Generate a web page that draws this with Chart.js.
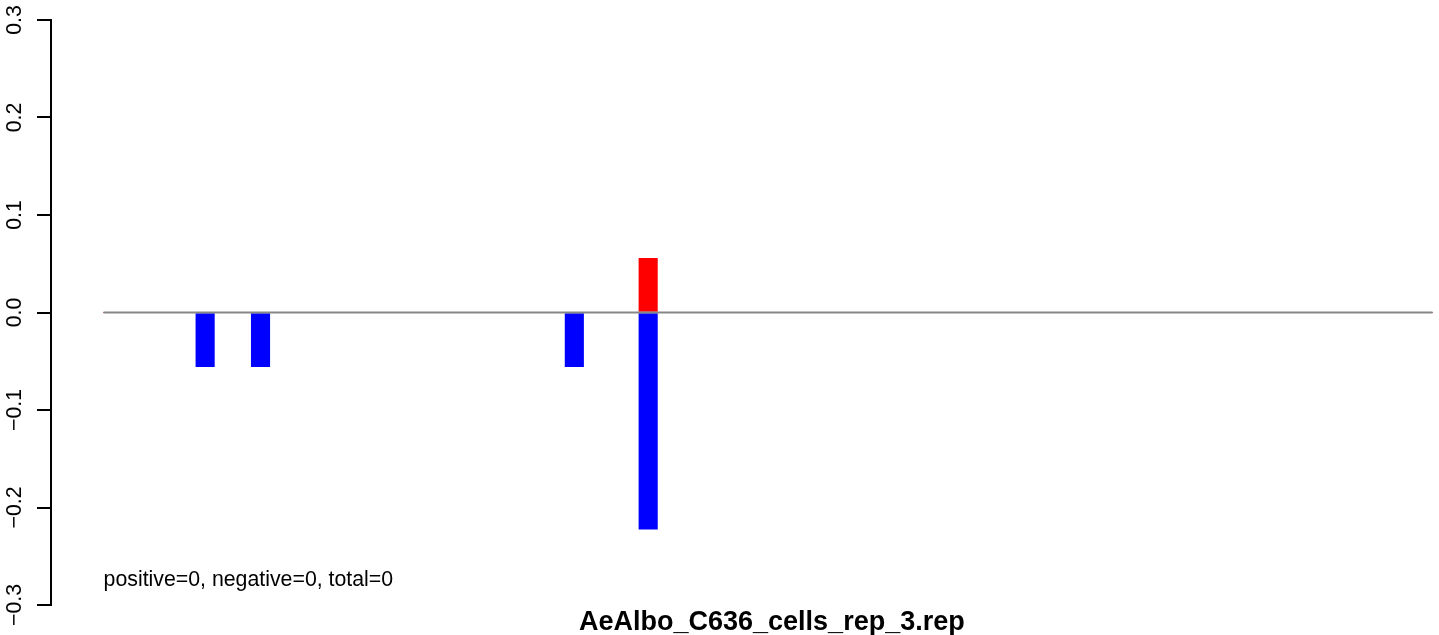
<!DOCTYPE html>
<html>
<head>
<meta charset="utf-8">
<script src="https://cdn.jsdelivr.net/npm/chart.js@4/dist/chart.umd.min.js"></script>
<style>
html, body { margin: 0; padding: 0; background: #ffffff; }
canvas { display: block; }
</style>
</head>
<body>
<canvas id="c" width="1439" height="635"></canvas>
<script>
// ---- data ----
const categories = [
   1,  2,  3,  4,  5,  6,  7,  8,  9, 10, 11, 12,
  13, 14, 15, 16, 17, 18, 19, 20, 21, 22, 23, 24,
  25, 26, 27, 28, 29, 30, 31, 32, 33, 34, 35, 36,
  37, 38, 39, 40, 41, 42, 43, 44, 45, 46, 47, 48,
  49, 50, 51, 52, 53, 54, 55, 56, 57, 58, 59, 60,
  61, 62, 63, 64, 65, 66, 67, 68, 69, 70, 71, 72
];
const positiveValues = [
  0, 0, 0, 0, 0, 0, 0, 0, 0, 0, 0, 0,
  0, 0, 0, 0, 0, 0, 0, 0, 0, 0, 0, 0,
  0, 0, 0, 0, 0, 0.0556, 0, 0, 0, 0, 0, 0,
  0, 0, 0, 0, 0, 0, 0, 0, 0, 0, 0, 0,
  0, 0, 0, 0, 0, 0, 0, 0, 0, 0, 0, 0,
  0, 0, 0, 0, 0, 0, 0, 0, 0, 0, 0, 0
];
const negativeValues = [
  0, 0, 0, 0, 0, -0.0556, 0, 0, -0.0556, 0, 0, 0,
  0, 0, 0, 0, 0, 0, 0, 0, 0, 0, 0, 0,
  0, -0.0556, 0, 0, 0, -0.2222, 0, 0, 0, 0, 0, 0,
  0, 0, 0, 0, 0, 0, 0, 0, 0, 0, 0, 0,
  0, 0, 0, 0, 0, 0, 0, 0, 0, 0, 0, 0,
  0, 0, 0, 0, 0, 0, 0, 0, 0, 0, 0, 0
];
const yTickValues = [-0.3, -0.2, -0.1, 0, 0.1, 0.2, 0.3];
const yTickLabels = ['\u22120.3', '\u22120.2', '\u22120.1', '0.0', '0.1', '0.2', '0.3'];
const baselineX = [0, 72];
const annotationText = 'positive=0, negative=0, total=0';
const titleText = 'AeAlbo_C636_cells_rep_3.rep';

// ---- chart ----
const FONT = '"Liberation Sans", Arial, Helvetica, sans-serif';

const textPlugin = {
  id: 'rTexts',
  afterDraw(chart) {
    const { ctx, scales, chartArea } = chart;
    ctx.save();
    ctx.fillStyle = '#000000';
    ctx.font = '21.3px ' + FONT;
    ctx.textAlign = 'left';
    ctx.textBaseline = 'alphabetic';
    ctx.fillText(annotationText, scales.x.getPixelForValue(0), scales.y.getPixelForValue(-0.28));
    ctx.font = 'bold 27px ' + FONT;
    ctx.textAlign = 'center';
    ctx.fillText(titleText, (chartArea.left + chartArea.right) / 2 + 30, 630);
    ctx.restore();
  }
};

new Chart(document.getElementById('c'), {
  type: 'bar',
  data: {
    datasets: [
      {
        type: 'line',
        label: 'baseline',
        data: baselineX.map(v => ({ x: v, y: 0 })),
        borderColor: '#878787',
        borderWidth: 2,
        pointRadius: 0,
        fill: false,
        stack: 'baseline',
        order: 0
      },
      {
        label: 'positive',
        data: categories.map((c, i) => ({ x: c - 0.5, y: positiveValues[i] })),
        backgroundColor: '#ff0000',
        borderWidth: 0,
        barPercentage: 1,
        categoryPercentage: 1,
        stack: 's',
        order: 1
      },
      {
        label: 'negative',
        data: categories.map((c, i) => ({ x: c - 0.5, y: negativeValues[i] })),
        backgroundColor: '#0000ff',
        borderWidth: 0,
        barPercentage: 1,
        categoryPercentage: 1,
        stack: 's',
        order: 1
      }
    ]
  },
  options: {
    responsive: false,
    animation: false,
    devicePixelRatio: 1,
    layout: { padding: { top: 20, bottom: 30, left: 0, right: 6.3 } },
    plugins: {
      legend: { display: false },
      tooltip: { enabled: false },
      title: { display: false }
    },
    scales: {
      x: {
        type: 'linear',
        display: false,
        offset: false,
        min: -2.85,
        max: 72,
        stacked: true,
        grid: { offset: false }
      },
      y: {
        type: 'linear',
        min: -0.3,
        max: 0.3,
        stacked: true,
        afterFit(scale) { scale.width = 51; },
        afterBuildTicks(scale) { scale.ticks = yTickValues.map(v => ({ value: v })); },
        border: { display: true, color: '#000000', width: 2 },
        grid: {
          drawOnChartArea: false,
          drawTicks: true,
          tickLength: 14,
          tickColor: '#000000',
          tickWidth: 2,
          lineWidth: 2
        },
        ticks: {
          autoSkip: false,
          minRotation: 90,
          maxRotation: 90,
          crossAlign: 'center',
          padding: 1,
          color: '#000000',
          font: { family: FONT, size: 21.3 },
          callback: (value, index) => yTickLabels[index]
        }
      }
    }
  },
  plugins: [textPlugin]
});
</script>
</body>
</html>
